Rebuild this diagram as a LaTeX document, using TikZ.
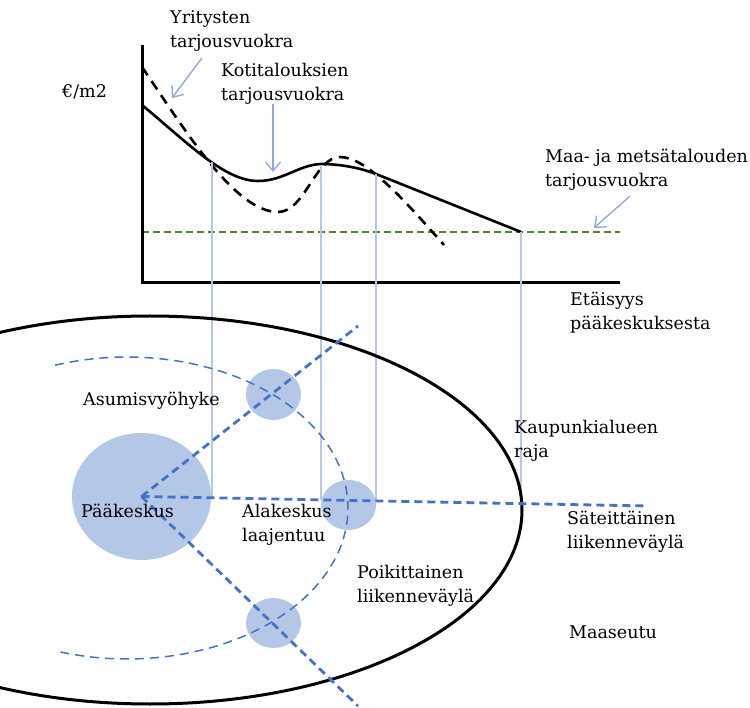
\documentclass[tikz,border=0pt]{standalone}
\usepackage{fontspec}
\setmainfont{DejaVu Serif}
\usetikzlibrary{arrows.meta,shapes.geometric}
\definecolor{paleblue}{RGB}{180,199,231}
\definecolor{roadblue}{RGB}{68,114,196}
\definecolor{arrowblue}{RGB}{143,170,220}
\definecolor{fieldgreen}{RGB}{84,130,53}

\begin{document}
\begin{tikzpicture}[x=1pt,y=-1pt,
	>={Straight Barb[length=9pt,width=15pt]},
	lbl/.style={anchor=base west,inner sep=0pt,align=left,font=\fontsize{17.5}{24}\selectfont},
	centre/.style={ellipse,fill=paleblue,inner sep=0pt},
	road/.style={color=roadblue,line width=2.8pt,dash pattern=on 8pt off 5pt},
	pointer/.style={->,color=arrowblue,line width=1.4pt},
	guide/.style={color=paleblue,line width=1.2pt}]
\useasboundingbox (0,0) rectangle (750,708);
% rent curves
\draw[fieldgreen,line width=2pt,dash pattern=on 7pt off 4pt] (142,232) -- (620,232);
\draw[line width=2.6pt]
	(142,105) .. controls (190,145) and (225,181) .. (258,181)
	.. controls (285,181) and (300,163) .. (325,164)
	.. controls (345,165) and (360,168) .. (376,174) -- (521,232);
\draw[line width=2.6pt,dash pattern=on 10pt off 7pt]
	(142,67) .. controls (185,130) and (235,212) .. (278,212)
	.. controls (305,212) and (315,157) .. (340,157)
	.. controls (365,157) and (400,195) .. (444,245);
\draw[line width=3pt] (142,45) -- (142,283) -- (620,283);
% guide lines down to the map
\foreach \x/\ya/\yb in {212/162/498,321/165/500,376/174/501,521/232/503}{
	\draw[guide] (\x,\ya) -- (\x,\yb);
}
% city area
\begin{scope}
	\clip (0,0) rectangle (750,708);
	\draw[line width=3pt] (150,510) ellipse [x radius=372,y radius=194];
\end{scope}
\node[centre,minimum width=139pt,minimum height=127pt] (paa) at (141.5,496.5) {};
\node[centre,minimum width=55pt,minimum height=51pt] (ylakesk) at (273.5,394.5) {};
\node[centre,minimum width=55pt,minimum height=50pt] (alakesk) at (348.5,505) {};
\node[centre,minimum width=55pt,minimum height=50pt] (alakesk2) at (273.5,623) {};
\draw[color=roadblue,line width=1.5pt,dash pattern=on 9pt off 6pt]
	plot[domain=-109:108,samples=80] ({127+221*cos(\x)},{508+151*sin(\x)});
\coordinate (tieNE) at (358,326);
\coordinate (tieE) at (648,506);
\coordinate (tieSE) at (358,706);
\foreach \t in {tieNE,tieE,tieSE}{
	\draw[road] (paa.center) -- (\t);
}
% labels (base = last line)
\node[lbl] (yritykset) at (170,48) {Yritysten\\tarjousvuokra};
\node[lbl] (euro) at (62,98) {€/m2};
\node[lbl] (koti) at (221,101) {Kotitalouksien\\tarjousvuokra};
\node[lbl] (maa) at (545,187) {Maa- ja metsätalouden\\tarjousvuokra};
\node[lbl] (etaisyys) at (570,330) {Etäisyys\\pääkeskuksesta};
\node[lbl] (asumis) at (83,406) {Asumisvyöhyke};
\node[lbl] (paateksti) at (81,517) {Pääkeskus};
\node[lbl] (alateksti) at (242,541) {Alakeskus\\laajentuu};
\node[lbl] (poik) at (357,602) {Poikittainen\\liikenneväylä};
\node[lbl] (raja) at (514,457) {Kaupunkialueen\\raja};
\node[lbl] (sateit) at (567,548) {Säteittäinen\\liikenneväylä};
\node[lbl] (maaseutu) at (569,638) {Maaseutu};
% pointers
\coordinate (yritA) at (202,58);
\coordinate (yritB) at (172,98);
\coordinate (kotiA) at (273,104);
\coordinate (kotiB) at (273,172);
\coordinate (maaA) at (630,196);
\coordinate (maaB) at (594,228);
\draw[pointer] (yritA) -- (yritB);
\draw[pointer] (kotiA) -- (kotiB);
\draw[pointer] (maaA) -- (maaB);
\end{tikzpicture}
\end{document}
